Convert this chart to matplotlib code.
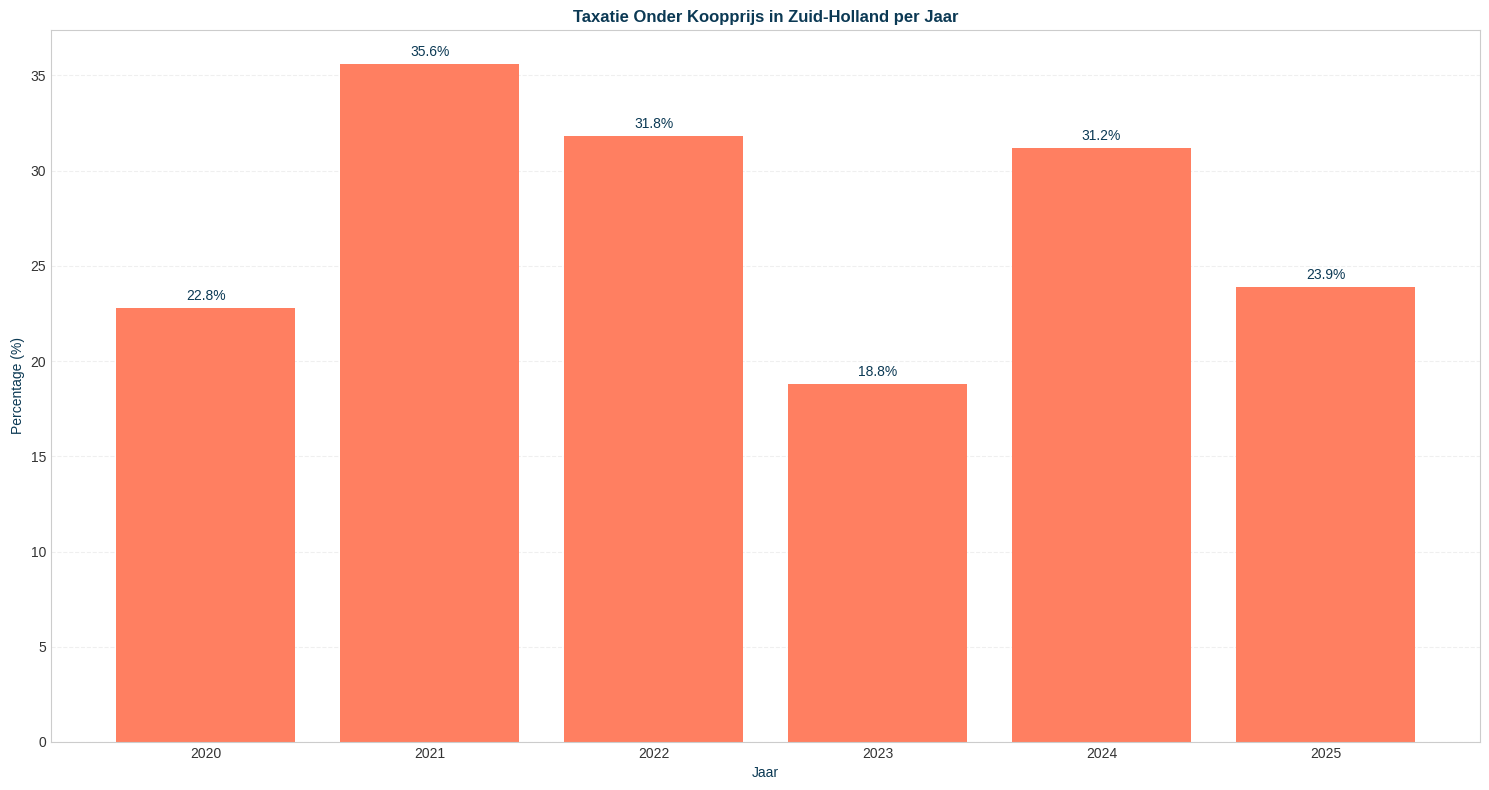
#!/usr/bin/env python3
"""Taxatie onder koopprijs in Zuid-Holland per jaar - staafdiagram."""
import matplotlib
matplotlib.use("Agg")
import matplotlib.pyplot as plt
import seaborn as sns

sns.set_style("whitegrid")
plt.rcParams.update({"font.family": ["Liberation Sans", "DejaVu Sans"]})

JAREN = ["2020", "2021", "2022", "2023", "2024", "2025"]
PERCENTAGES = [22.8, 35.6, 31.8, 18.8, 31.2, 23.9]

DONKERBLAUW = "#0B3954"
KORAAL = "#FF7F61"

fig, ax = plt.subplots(figsize=(14.89, 7.9), dpi=100)
bars = ax.bar(JAREN, PERCENTAGES, color=KORAAL, width=0.8, linewidth=0)

for b, v in zip(bars, PERCENTAGES):
    ax.annotate(f"{v:.1f}%", (b.get_x() + b.get_width() / 2, v),
                xytext=(0, 3.5), textcoords="offset points",
                ha="center", va="bottom", fontsize=10, color=DONKERBLAUW)

ax.set_ylim(0, max(PERCENTAGES) * 1.05)
ax.set_title("Taxatie Onder Koopprijs in Zuid-Holland per Jaar",
             fontsize=12, fontweight="bold", color=DONKERBLAUW)
ax.set_xlabel("Jaar", fontsize=10, color=DONKERBLAUW)
ax.set_ylabel("Percentage (%)", fontsize=10, color=DONKERBLAUW)
ax.tick_params(labelsize=10, colors="#333333", length=0, pad=3.5)
ax.grid(axis="x", visible=False)
ax.grid(axis="y", linestyle="--", alpha=0.3)
for s in ax.spines.values():
    s.set_color("#cccccc")

fig.subplots_adjust(left=0.0343, right=0.994, top=0.962, bottom=0.0608)
plt.savefig("out.png", dpi=100, facecolor="white")
